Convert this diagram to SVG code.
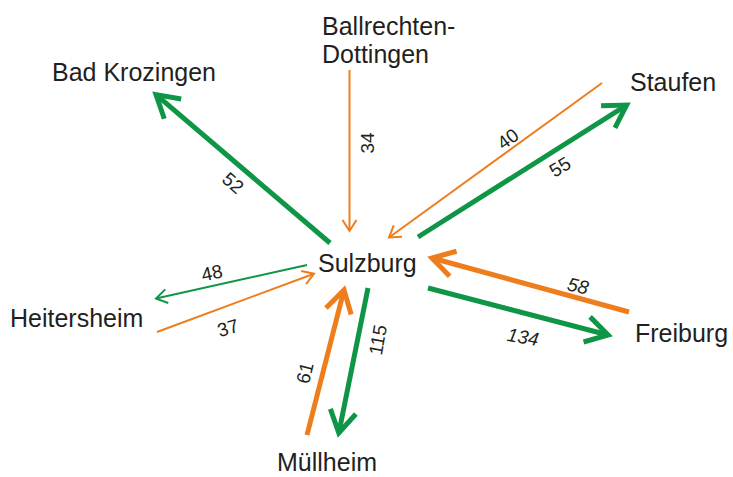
<svg xmlns="http://www.w3.org/2000/svg" width="733" height="477" viewBox="0 0 733 477">
<style>
.node{font-family:"Liberation Sans",Arial,sans-serif;font-size:25px;fill:#231f20}
.lbl{font-family:"Liberation Sans",Arial,sans-serif;font-size:19px;fill:#231f20;text-anchor:middle;dominant-baseline:central}
.it{font-style:italic}
.g{stroke:#0f9546;fill:none}
.o{stroke:#ee7d1d;fill:none}
.thick{stroke-width:5}
.thin{stroke-width:2}
</style>
<defs>
<marker id="gTk" markerUnits="userSpaceOnUse" viewBox="-30 -20 40 40" markerWidth="40" markerHeight="40" refX="0" refY="0" orient="auto" overflow="visible"><path d="M-22,-13 L0,0 L-22,13" fill="none" stroke="#0f9546" stroke-width="5"/></marker>
<marker id="oTk" markerUnits="userSpaceOnUse" viewBox="-30 -20 40 40" markerWidth="40" markerHeight="40" refX="0" refY="0" orient="auto" overflow="visible"><path d="M-22,-13 L0,0 L-22,13" fill="none" stroke="#ee7d1d" stroke-width="5"/></marker>
<marker id="gTn" markerUnits="userSpaceOnUse" viewBox="-20 -12 24 24" markerWidth="24" markerHeight="24" refX="0" refY="0" orient="auto" overflow="visible"><path d="M-11,-7 L0,0 L-11,7" fill="none" stroke="#0f9546" stroke-width="2"/></marker>
<marker id="oTn" markerUnits="userSpaceOnUse" viewBox="-20 -12 24 24" markerWidth="24" markerHeight="24" refX="0" refY="0" orient="auto" overflow="visible"><path d="M-11,-7 L0,0 L-11,7" fill="none" stroke="#ee7d1d" stroke-width="2"/></marker>
</defs>
<g id="connectors">
<line class="g thick" x1="330" y1="243" x2="156" y2="94.6" marker-end="url(#gTk)"/>
<line class="o thin" x1="349.5" y1="70" x2="349.5" y2="231" marker-end="url(#oTn)"/>
<line class="o thin" x1="602" y1="83" x2="389" y2="237.5" marker-end="url(#oTn)"/>
<line class="g thick" x1="418" y1="237" x2="626.6" y2="105.1" marker-end="url(#gTk)"/>
<line class="g thin" x1="307" y1="265" x2="156" y2="298.6" marker-end="url(#gTn)"/>
<line class="o thin" x1="157" y1="332" x2="314" y2="273.7" marker-end="url(#oTn)"/>
<line class="o thick" x1="307" y1="435" x2="344" y2="289.9" marker-end="url(#oTk)"/>
<line class="g thick" x1="368" y1="288" x2="338.8" y2="433" marker-end="url(#gTk)"/>
<line class="o thick" x1="629" y1="312" x2="431.9" y2="258" marker-end="url(#oTk)"/>
<line class="g thick" x1="428" y1="288" x2="608.1" y2="335" marker-end="url(#gTk)"/>
<text class="lbl" transform="translate(233,183) rotate(40.5)">52</text>
<text class="lbl" transform="translate(367,143) rotate(-90)">34</text>
<text class="lbl" transform="translate(508,139) rotate(-36)">40</text>
<text class="lbl" transform="translate(560,167) rotate(-32)">55</text>
<text class="lbl" transform="translate(212,273) rotate(-12)">48</text>
<text class="lbl" transform="translate(228,328) rotate(-17)">37</text>
<text class="lbl" transform="translate(305,373) rotate(-76)">61</text>
<text class="lbl" transform="translate(378,340) rotate(-80)">115</text>
<text class="lbl it" transform="translate(578,286) rotate(13)">58</text>
<text class="lbl it" transform="translate(523,337) rotate(10)">134</text>
</g>
<g id="sulzburg"><text class="node" x="318" y="272">Sulzburg</text></g>
<g id="bad-krozingen"><text class="node" x="52" y="81">Bad Krozingen</text></g>
<g id="ballrechten-dottingen"><text class="node" x="322" y="35">Ballrechten-</text><text class="node" x="322" y="63">Dottingen</text></g>
<g id="staufen"><text class="node" x="630" y="91">Staufen</text></g>
<g id="heitersheim"><text class="node" x="10" y="327">Heitersheim</text></g>
<g id="freiburg"><text class="node" x="635" y="342">Freiburg</text></g>
<g id="muellheim"><text class="node" x="277" y="471">Müllheim</text></g>
</svg>
